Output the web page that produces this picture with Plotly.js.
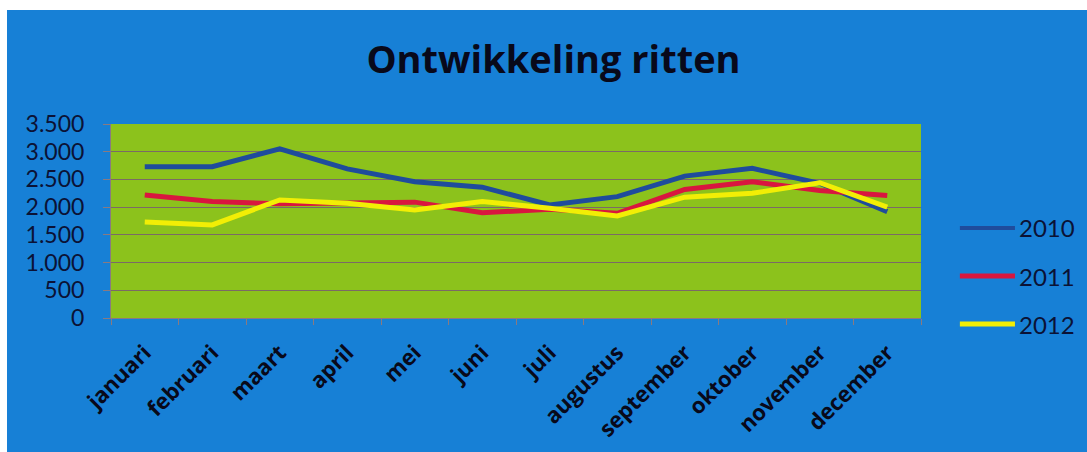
<!DOCTYPE html>
<html>
<head>
<meta charset="utf-8">
<script src="https://cdn.plot.ly/plotly-3.0.1.min.js"></script>
<style>
  html, body { margin: 0; padding: 0; background: #ffffff; width: 1087px; height: 452px; overflow: hidden; }
  #chart { position: absolute; left: 7px; top: 10px; width: 1080px; height: 442px; }
</style>
</head>
<body>
<div id="chart"></div>
<script>
const months = ["januari", "februari", "maart", "april", "mei", "juni", "juli",
                "augustus", "september", "oktober", "november", "december"];
const series2010 = [2730, 2730, 3050, 2690, 2460, 2360, 2040, 2190, 2560, 2700, 2430, 1920];
const series2011 = [2220, 2100, 2060, 2070, 2090, 1900, 1960, 1890, 2320, 2460, 2300, 2210];
const series2012 = [1730, 1680, 2130, 2070, 1950, 2100, 1980, 1840, 2180, 2250, 2440, 2000];
const seriesNames = ["2010", "2011", "2012"];
const seriesColors = ["#1f4c9c", "#d9163f", "#f2ee05"];
const yTicks = [0, 500, 1000, 1500, 2000, 2500, 3000, 3500];

const allSeries = [series2010, series2011, series2012];
const traces = allSeries.map((vals, i) => ({
  type: "scatter",
  mode: "lines",
  x: months,
  y: vals,
  name: seriesNames[i],
  line: { color: seriesColors[i], width: 5 },
  showlegend: false
}));

const navy = "#0b1235";
const ink = "#08091a";

// legend built as paper-referenced keys and labels
const legendY = [0.464, 0.216, -0.031];
const legendShapes = seriesNames.map((n, i) => ({
  type: "line", xref: "paper", yref: "paper",
  x0: 1.048, x1: 1.116, y0: legendY[i], y1: legendY[i],
  line: { color: seriesColors[i], width: i === 0 ? 4 : 5 }
}));
const legendLabels = seriesNames.map((n, i) => ({
  xref: "paper", yref: "paper", x: 1.118, y: legendY[i],
  xanchor: "left", yanchor: "middle", showarrow: false, text: n,
  font: { family: "Lato, sans-serif", size: 24, color: navy }
}));

const layout = {
  width: 1080,
  height: 442,
  paper_bgcolor: "#1780d6",
  plot_bgcolor: "#8cc21c",
  separators: ",.",
  margin: { l: 104, r: 166, t: 114, b: 134 },
  font: { family: "Lato, 'Open Sans', sans-serif", color: navy },
  title: {
    text: "<b>Ontwikkeling ritten</b>",
    font: { family: "'Open Sans', sans-serif", size: 38, color: ink },
    x: 0.506, xanchor: "center",
    y: 0.888, yanchor: "middle",
    xref: "container", yref: "container"
  },
  xaxis: {
    type: "category",
    range: [-0.5, months.length - 0.5],
    tickson: "boundaries",
    ticks: "outside",
    ticklen: 6,
    tickcolor: "#8a7a80",
    tickangle: -45,
    ticklabelstandoff: 12,
    tickfont: { family: "'Open Sans', sans-serif", size: 22, color: ink, weight: "bold" },
    showgrid: false,
    showline: true,
    linecolor: "#8a7a80",
    linewidth: 1,
    fixedrange: true
  },
  yaxis: {
    range: [0, 3500],
    tickvals: yTicks,
    tickformat: ",d",
    ticks: "outside",
    ticklen: 7,
    tickcolor: "#8a7a80",
    ticklabelstandoff: 14,
    tickfont: { family: "Lato, sans-serif", size: 23, color: navy },
    showgrid: true,
    gridcolor: "#7b6a66",
    gridwidth: 1,
    showline: true,
    linecolor: "#8a7a80",
    zeroline: false,
    fixedrange: true
  },
  showlegend: false,
  shapes: legendShapes,
  annotations: legendLabels
};

Plotly.newPlot("chart", traces, layout, { staticPlot: true, displayModeBar: false });
</script>
</body>
</html>
